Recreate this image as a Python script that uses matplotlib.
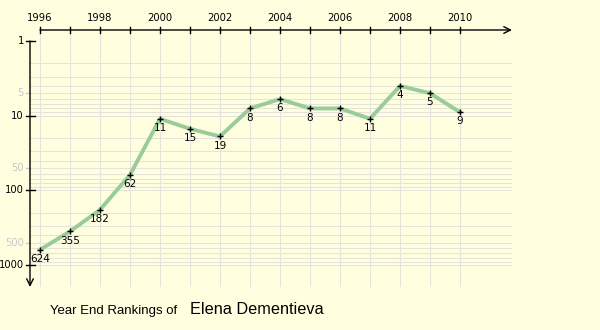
import matplotlib.pyplot as plt
import numpy as np

# year end rankings
years = [1996, 1997, 1998, 1999, 2000, 2001, 2002, 2003, 2004, 2005, 2006, 2007, 2008, 2009, 2010]
ranks = [624, 355, 182, 62, 11, 15, 19, 8, 6, 8, 8, 11, 4, 5, 9]
player = "Elena Dementieva"

major_ticks = [1, 10, 100, 1000]
minor_labels = [5, 50, 500]
year_labels = [1996, 1998, 2000, 2002, 2004, 2006, 2008, 2010]

bg = "#ffffe0"
W, H = 600, 330

fig = plt.figure(figsize=(6, 3.3), dpi=100, facecolor=bg)
# plot area: x 30..512 px, y 30..287 px
ax = fig.add_axes([30 / W, (H - 287) / H, 482 / W, 257 / H])
ax.set_facecolor(bg)
ax.set_yscale("log")
ybot = 10 ** (246 / 74.67)
ytop = 10 ** (-11 / 74.67)
x0 = 1996 - 10 / 30
ax.set_xlim(x0, 1996 + 472 / 30)
ax.set_ylim(ybot, ytop)
for s in ax.spines.values():
    s.set_visible(False)
ax.set_xticks([])
ax.set_yticks([])
ax.minorticks_off()

grid_c = "#e4e4dc"
# horizontal grid lines
for dec in [1, 10, 100]:
    for m in range(2, 11):
        ax.plot([x0, 1996 + 471 / 30], [dec * m, dec * m], color=grid_c, lw=0.8, zorder=1)
# vertical grid lines
for yr in years:
    ax.plot([yr, yr], [ytop * 10 ** (3 / 74.67), ybot], color=grid_c, lw=0.8, zorder=1)

# axes with arrows
ax.annotate("", xy=(1996 + 472 / 30, ytop), xytext=(1996, ytop),
            arrowprops=dict(arrowstyle="->", color="black", lw=1, mutation_scale=12,
                            shrinkA=0, shrinkB=0), annotation_clip=False)
ax.annotate("", xy=(x0, ybot), xytext=(x0, 1),
            arrowprops=dict(arrowstyle="->", color="black", lw=1, mutation_scale=12,
                            shrinkA=0, shrinkB=0), annotation_clip=False)

dy = 10 ** (3 / 74.67)
for yr in years:
    ax.plot([yr, yr], [ytop / dy, ytop * dy], color="black", lw=1, clip_on=False)
for yr in year_labels:
    ax.text(yr, ytop / 10 ** (7 / 74.67), str(yr), ha="center", va="bottom",
            fontsize=7.2, clip_on=False)

dx = 4 / 30
for t in major_ticks:
    ax.plot([x0 - dx, x0 + dx * 1.2], [t, t], color="black", lw=1, clip_on=False)
    ax.text(x0 - 6 / 30, t, str(t), ha="right", va="center", fontsize=7.2, clip_on=False)
for t in minor_labels:
    ax.plot([x0 - dx, x0], [t, t], color="#cccccc", lw=1, clip_on=False)
    ax.text(x0 - 6 / 30, t, str(t), ha="right", va="center", fontsize=7.2,
            color="#c8c8c8", clip_on=False)

# rankings line
ax.plot(years, ranks, color="#99cc99", lw=2.8, zorder=3, solid_joinstyle="round")
ax.plot(years, ranks, ls="none", marker="+", ms=4, mew=1, color="black", zorder=4)
for yr, r in zip(years, ranks):
    ax.annotate(str(r), (yr, r), xytext=(0, -3), textcoords="offset points",
                ha="center", va="top", fontsize=7.5, zorder=5)

fig.text(50 / W, 1 - 311 / H, "Year End Rankings of", fontsize=9.5,
         family="Liberation Sans", va="center")
fig.text(190 / W, 1 - 310 / H, player, fontsize=11.7,
         family="Liberation Sans", va="center")

fig.savefig("out.png", dpi=100, facecolor=bg)
